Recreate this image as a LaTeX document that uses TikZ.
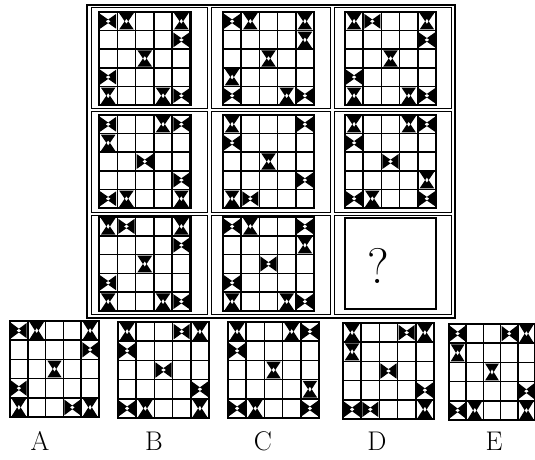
\documentclass[tikz,border=0pt]{standalone}
\newcommand{\caixa}[5]{%
\begin{scope}[shift={(#1,#2)},x=#3pt,y=-#4pt]
\draw[line width=2.2pt] (0,0) rectangle (5,5);
\foreach \i in {1,...,4} {\draw (\i,0)--(\i,5); \draw (0,\i)--(5,\i);}
\foreach \c/\r/\t in {#5} \pic at (\c-.5,\r-.5) {\t};
\end{scope}}
\begin{document}
\begin{tikzpicture}[x=1pt,y=-1pt,line width=1.5pt,
  hh/.pic={\fill (-.44,-.4)--(.14,0)--(-.44,.4)--cycle (.44,-.4)--(-.14,0)--(.44,.4)--cycle;},
  vv/.pic={\fill (-.4,-.44)--(0,.14)--(.4,-.44)--cycle (-.4,.44)--(0,-.14)--(.4,.44)--cycle;}]
\useasboundingbox (0,0) rectangle (535,460);
% moldura da matriz
\draw[line width=1.2pt] (87,5) rectangle (455,318);
\foreach \xa/\xb in {91/207,211/330,334/451}
  \foreach \ya/\yb in {8/108,111/212,215/314}
    \draw[line width=1pt] (\xa,\ya) rectangle (\xb,\yb);
% linha 1
\caixa{99}{12}{18.3}{18.6}{1/1/hh,2/1/vv,5/1/vv,5/2/hh,3/3/vv,1/4/hh,1/5/vv,4/5/vv,5/5/hh}
\caixa{223}{12}{18.2}{18.6}{1/1/hh,2/1/vv,5/1/vv,5/2/vv,3/3/vv,1/4/vv,1/5/hh,4/5/vv,5/5/hh}
\caixa{345}{12}{18.2}{18.6}{1/1/vv,2/1/hh,5/1/vv,5/2/hh,3/3/vv,1/4/hh,1/5/vv,4/5/vv,5/5/hh}
% linha 2
\caixa{99}{115}{18.3}{18.6}{1/1/hh,4/1/vv,5/1/hh,1/2/vv,3/3/hh,5/4/hh,1/5/hh,2/5/vv,5/5/vv}
\caixa{223}{115}{18.2}{18.6}{1/1/vv,5/1/hh,1/2/hh,3/3/vv,5/4/hh,1/5/vv,2/5/hh}
\caixa{345}{115}{18.2}{18.6}{1/1/vv,4/1/vv,5/1/hh,1/2/hh,3/3/hh,5/4/vv,1/5/hh,2/5/vv,5/5/hh}
% linha 3
\caixa{99}{217}{18.3}{18.8}{1/1/vv,2/1/hh,5/1/vv,5/2/hh,3/3/vv,1/4/hh,1/5/vv,4/5/vv,5/5/hh}
\caixa{223}{217}{18.2}{18.8}{1/1/hh,2/1/vv,5/1/hh,5/2/vv,3/3/hh,1/4/hh,1/5/vv,4/5/vv,5/5/hh}
\draw[line width=1.4pt] (345,218) rectangle (436,309);
\node (q) at (378,266) {\fontsize{50}{50}\selectfont ?};
% alternativas
\caixa{10}{321}{17.8}{19.2}{1/1/hh,2/1/vv,5/1/vv,5/2/hh,3/3/vv,1/4/hh,1/5/vv,4/5/hh,5/5/vv}
\caixa{118}{322}{18.2}{19.2}{1/1/vv,4/1/hh,5/1/vv,1/2/hh,3/3/hh,5/4/hh,1/5/hh,2/5/vv,5/5/vv}
\caixa{228}{322}{18.2}{19.2}{1/1/vv,4/1/vv,5/1/hh,1/2/hh,3/3/vv,5/4/vv,1/5/hh,2/5/vv,5/5/hh}
\caixa{343}{323}{18.2}{19.2}{1/1/vv,4/1/hh,5/1/vv,1/2/vv,3/3/hh,5/4/hh,1/5/hh,2/5/hh,5/5/vv}
\caixa{449}{324}{17.2}{19.2}{1/1/hh,4/1/hh,5/1/vv,1/2/vv,3/3/vv,5/4/hh,1/5/hh,2/5/vv,5/5/vv}
\foreach \l/\x in {A/40,B/154,C/263,D/377,E/494}
  \node (l\l) at (\x,441) {\fontsize{27}{27}\selectfont \l};
\end{tikzpicture}
\end{document}
